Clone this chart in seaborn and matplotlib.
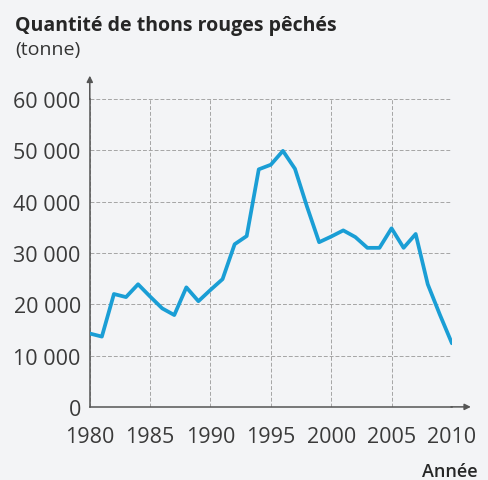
import matplotlib
matplotlib.use("Agg")
import matplotlib.pyplot as plt
import seaborn as sns
import pandas as pd

years = list(range(1980, 2011))
catches = [14300, 13700, 22000, 21400, 23900, 21500, 19200, 17900, 23300, 20600,
           22800, 24900, 31700, 33300, 46300, 47200, 49900, 46400, 39000, 32100,
           33200, 34400, 33100, 31000, 31000, 34800, 31000, 33700, 23900, 18000,
           12400]
xticks = [1980, 1985, 1990, 1995, 2000, 2005, 2010]
yticks = [0, 10000, 20000, 30000, 40000, 50000, 60000]
ytick_labels = ["0", "10 000", "20 000", "30 000", "40 000", "50 000", "60 000"]

title = "Quantité de thons rouges pêchés"
unit = "(tonne)"
xlabel = "Année"

df = pd.DataFrame({"year": years, "catch": catches})

sns.set_theme(style="white")
plt.rcParams["font.family"] = ["Open Sans", "DejaVu Sans"]

bg = "#f3f4f6"
fig = plt.figure(figsize=(4.88, 4.81), dpi=100, facecolor=bg)
ax = fig.add_axes([0.184, 0.152, 0.742, 0.640])
ax.set_facecolor(bg)

sns.lineplot(data=df, x="year", y="catch", ax=ax, color="#1a9ed5",
             linewidth=2.7, zorder=3)

ax.set_xlim(1980, 2010)
ax.set_ylim(0, 60000)
ax.set_xticks(xticks)
ax.set_xticklabels([str(x) for x in xticks])
ax.set_yticks(yticks)
ax.set_yticklabels(ytick_labels)
ax.set_xlabel("")
ax.set_ylabel("")

ax.grid(True, color="#a5a5a5", linestyle=(0, (4, 2)), linewidth=0.7)
for s in ["top", "right"]:
    ax.spines[s].set_visible(False)
for s in ["left", "bottom"]:
    ax.spines[s].set_color("#555555")
    ax.spines[s].set_linewidth(1.1)

ax.tick_params(axis="both", which="major", direction="inout", length=7,
               width=1.0, color="#555555", labelsize=15.5, labelcolor="#3a3a3a")
ax.tick_params(axis="x", pad=10)
ax.tick_params(axis="y", pad=3)

# axis arrows
ax.annotate("", xy=(0, 1.085), xytext=(0, 0.99), xycoords="axes fraction",
            arrowprops=dict(arrowstyle="-|>", color="#555555", lw=1.1,
                            mutation_scale=9), annotation_clip=False)
ax.annotate("", xy=(1.06, 0), xytext=(0.99, 0), xycoords="axes fraction",
            arrowprops=dict(arrowstyle="-|>", color="#555555", lw=1.1,
                            mutation_scale=9), annotation_clip=False)

fig.text(15 / 488, 1 - 31 / 481, title, fontsize=14, fontweight="bold",
         color="#262626", ha="left", va="baseline")
fig.text(15 / 488, 1 - 55 / 481, unit, fontsize=14, color="#333333",
         ha="left", va="baseline")
fig.text(478 / 488, 1 - 477 / 481, xlabel, fontsize=13, fontweight="semibold",
         color="#262626", ha="right", va="baseline")

fig.savefig("out.png", dpi=100, facecolor=bg)
